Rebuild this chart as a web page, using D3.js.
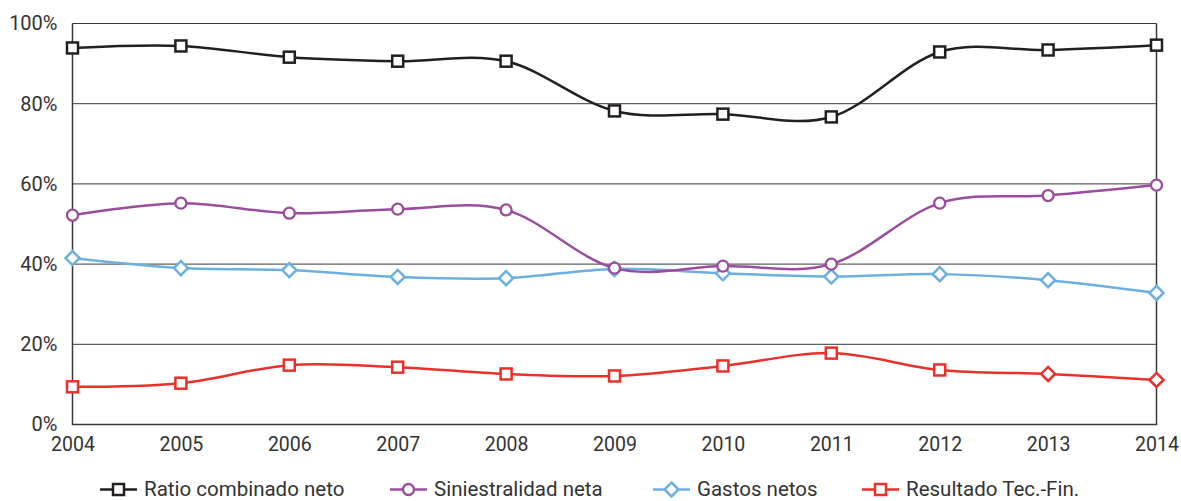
<!DOCTYPE html>
<html>
<head>
<meta charset="utf-8">
<script src="https://cdn.jsdelivr.net/npm/d3@7"></script>
<style>
  html, body { margin: 0; padding: 0; background: #fff; }
  svg text { font-family: Roboto, "DejaVu Sans", sans-serif; fill: #333; }
</style>
</head>
<body>
<svg id="chart" width="1181" height="501"></svg>
<script>
// Years on the x axis
const years = [2004, 2005, 2006, 2007, 2008, 2009, 2010, 2011, 2012, 2013, 2014];

// Series values (percent)
const ratioCombinado = [93.9, 94.4, 91.6, 90.6, 90.6, 78.2, 77.4, 76.7, 92.9, 93.4, 94.6];
const siniestralidad = [52.2, 55.2, 52.7, 53.7, 53.5, 39.0, 39.5, 40.0, 55.2, 57.1, 59.7];
const gastosNetos = [41.5, 39.0, 38.5, 36.8, 36.5, 38.8, 37.7, 36.9, 37.5, 36.0, 32.8];
const resultadoTecFin = [9.4, 10.3, 14.8, 14.3, 12.6, 12.1, 14.6, 17.8, 13.6, 12.6, 11.1];

// Marker shape for each point of the red series (last two drawn as diamonds)
const resultadoMarkers = ["square", "square", "square", "square", "square", "square", "square", "square", "square", "diamond", "diamond"];

const yTicks = [0, 20, 40, 60, 80, 100];

const seriesList = [
  { name: "Ratio combinado neto", values: ratioCombinado, color: "#231f20", marker: "square" },
  { name: "Siniestralidad neta", values: siniestralidad, color: "#9a4d9d", marker: "circle" },
  { name: "Gastos netos", values: gastosNetos, color: "#6cb0e0", marker: "diamond" },
  { name: "Resultado Tec.-Fin.", values: resultadoTecFin, color: "#e8312a", marker: "square", markers: resultadoMarkers }
];

const svg = d3.select("#chart");
const plotLeft = 72.5, plotRight = 1156.5, plotTop = 23.5, plotBottom = 424.5;

const x = d3.scaleLinear().domain([2004, 2014]).range([plotLeft, plotRight]);
const y = d3.scaleLinear().domain([0, 100]).range([plotBottom, plotTop]);

// Horizontal grid lines
svg.append("g")
  .selectAll("line")
  .data(yTicks.filter(d => d > 0))
  .join("line")
  .attr("x1", plotLeft).attr("x2", plotRight)
  .attr("y1", d => y(d)).attr("y2", d => y(d))
  .attr("stroke", "#3a3a3a").attr("stroke-width", 1);

// Frame: left axis, bottom axis, right border
svg.append("path")
  .attr("d", `M${plotLeft},${plotTop}V${plotBottom}H${plotRight}V${plotTop}`)
  .attr("fill", "none").attr("stroke", "#3a3a3a").attr("stroke-width", 1.5);

// Y axis labels
const yAxis = d3.axisLeft(y).tickValues(yTicks).tickSize(0).tickPadding(15).tickFormat(d => d + "%");
svg.append("g")
  .attr("transform", `translate(${plotLeft},0)`)
  .call(yAxis)
  .call(g => g.select(".domain").remove())
  .call(g => g.selectAll("text").attr("font-size", 20).attr("fill", "#333")
    .style("font-family", "Roboto, sans-serif"));

// X axis labels
const xAxis = d3.axisBottom(x).tickValues(years).tickSize(0).tickPadding(13).tickFormat(d3.format("d"));
svg.append("g")
  .attr("transform", `translate(0,${plotBottom})`)
  .call(xAxis)
  .call(g => g.select(".domain").remove())
  .call(g => g.selectAll("text").attr("font-size", 19.5).attr("fill", "#333")
    .style("font-family", "Roboto, sans-serif"));

const line = d3.line()
  .x((d, i) => x(years[i]))
  .y(d => y(d))
  .curve(d3.curveCardinal.tension(0));

function drawMarker(g, shape, cx, cy, color) {
  if (shape === "square") {
    g.append("rect")
      .attr("x", cx - 5.5).attr("y", cy - 5.5)
      .attr("width", 11).attr("height", 11)
      .attr("fill", "#fff").attr("stroke", color).attr("stroke-width", 2.5);
  } else if (shape === "circle") {
    g.append("circle")
      .attr("cx", cx).attr("cy", cy).attr("r", 5.5)
      .attr("fill", "#fff").attr("stroke", color).attr("stroke-width", 2.3);
  } else {
    const r = 7;
    g.append("path")
      .attr("d", `M${cx},${cy - r}L${cx + r},${cy}L${cx},${cy + r}L${cx - r},${cy}Z`)
      .attr("fill", "#fff").attr("stroke", color).attr("stroke-width", 2.5);
  }
}

// Lines and markers, drawn bottom series first
[...seriesList].reverse().forEach(s => {
  const g = svg.append("g");
  g.append("path")
    .attr("d", line(s.values))
    .attr("fill", "none")
    .attr("stroke", s.color)
    .attr("stroke-width", 2.5);
  s.values.forEach((v, i) => {
    const shape = s.markers ? s.markers[i] : s.marker;
    drawMarker(g, shape, x(years[i]), y(v), s.color);
  });
});

// Legend
const legendX = [100, 390, 653, 862];
const legendY = 489.5;
seriesList.forEach((s, i) => {
  const g = svg.append("g").attr("transform", `translate(${legendX[i]},${legendY})`);
  g.append("line").attr("x1", 0).attr("x2", 37).attr("y1", 0).attr("y2", 0)
    .attr("stroke", s.color).attr("stroke-width", 2.5);
  drawMarker(g, s.marker, 18.5, 0, s.color);
  g.append("text")
    .attr("x", 44).attr("y", 0).attr("dy", "0.34em")
    .attr("font-size", 20.5)
    .text(s.name);
});
</script>
</body>
</html>
